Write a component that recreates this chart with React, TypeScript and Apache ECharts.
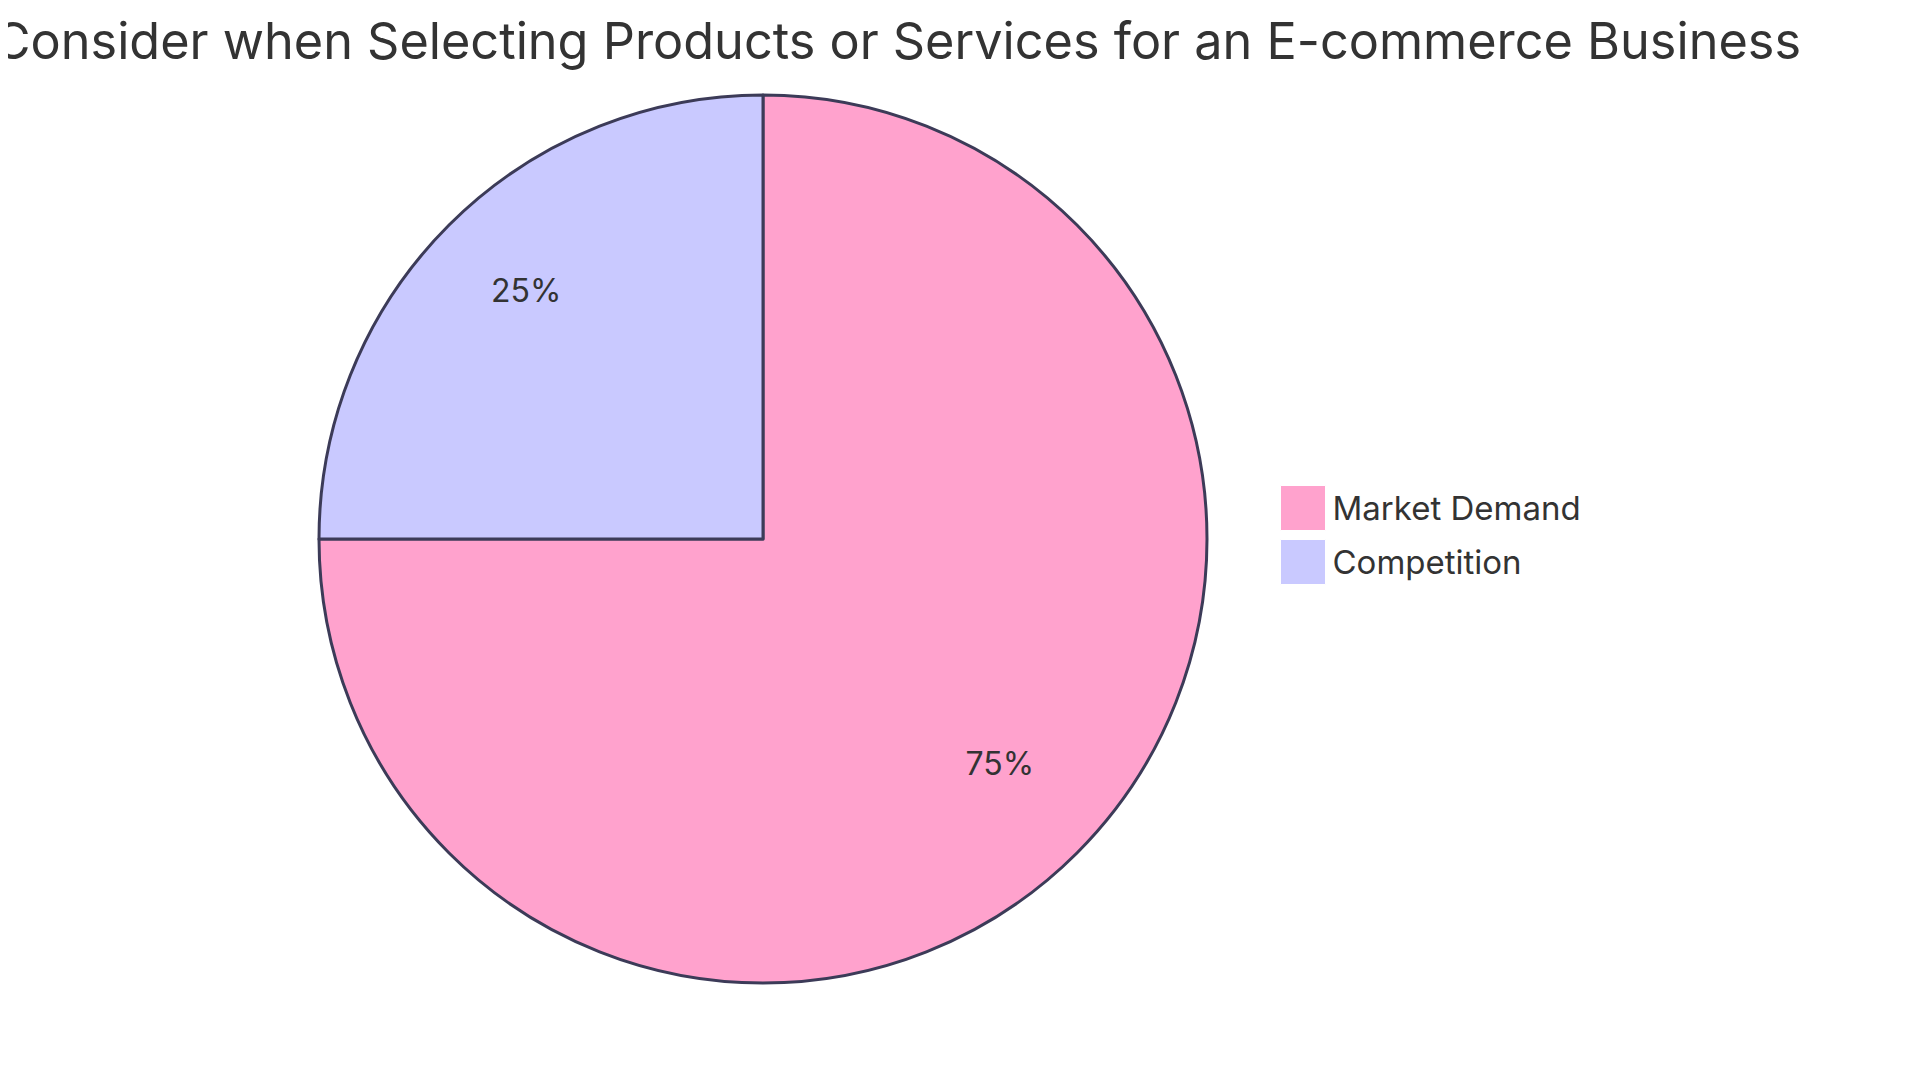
import React, { useEffect, useRef } from "react";
import * as echarts from "echarts";

const titleText = "Key Factors to Consider when Selecting Products or Services for an E-commerce Business";
const categories = ["Market Demand", "Competition"];
const values = [75, 25];
const colors = ["#FFA2CD", "#C9C9FF"];

export default function App() {
  const ref = useRef<HTMLDivElement>(null);
  useEffect(() => {
    const chart = echarts.init(ref.current!, null, { renderer: "svg" });
    const font = "Inter, 'Noto Sans', sans-serif";
    const data = categories.map((name, i) => ({ name, value: values[i] }));
    const total = values.reduce((a, b) => a + b, 0);
    chart.setOption({
      animation: false,
      backgroundColor: "#ffffff",
      graphic: [
        {
          type: "text",
          right: 111,
          top: 7,
          style: {
            text: titleText,
            font: `400 50.4px ${font}`,
            fill: "#333333",
          },
        },
      ],
      legend: {
        orient: "vertical",
        left: 1267,
        top: 472,
        itemWidth: 45,
        itemHeight: 45,
        itemGap: 8,
        icon: "rect",
        data: categories,
        itemStyle: { borderWidth: 1, borderColor: "#ffffff" },
        textStyle: { fontFamily: font, fontSize: 33, color: "#333333", padding: [0, 0, 0, 2] },
      },
      series: [
        {
          type: "pie",
          center: [755, 531],
          radius: [0, 444],
          startAngle: 90,
          clockwise: true,
          label: { show: false },
          labelLine: { show: false },
          itemStyle: { borderColor: "#3c3b58", borderWidth: 3 },
          data: data.map((d, i) => ({ ...d, itemStyle: { color: colors[i] } })),
        },
        {
          type: "pie",
          center: [755, 531],
          radius: [220, 444],
          startAngle: 90,
          clockwise: true,
          silent: true,
          legendHoverLink: false,
          itemStyle: { color: "rgba(0,0,0,0)", borderWidth: 0 },
          label: {
            show: true,
            position: "inside",
            offset: [0, -12],
            fontFamily: font,
            fontSize: 32,
            color: "#333333",
            formatter: (p: any) => `${Math.round((p.value / total) * 100)}%`,
          },
          labelLine: { show: false },
          data,
        },
      ],
    });
    return () => chart.dispose();
  }, []);
  return <div ref={ref} style={{ width: 1904, height: 1064 }} />;
}
